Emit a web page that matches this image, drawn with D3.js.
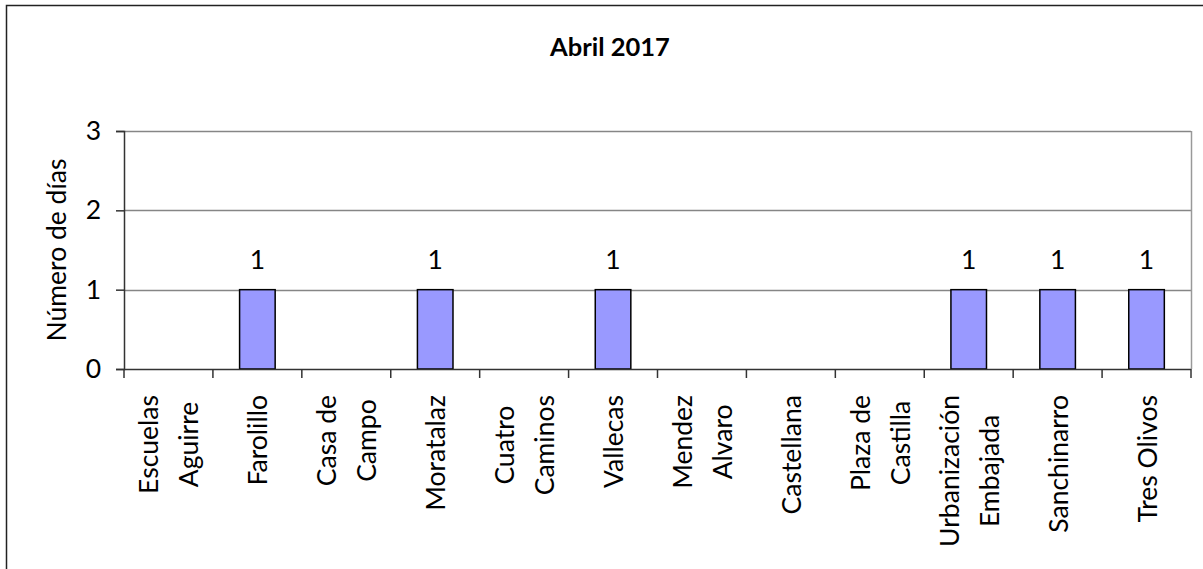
<!DOCTYPE html>
<html>
<head>
<meta charset="utf-8">
<script src="https://cdn.jsdelivr.net/npm/d3@7"></script>
<style>
  body { margin: 0; background: #fff; }
  text { font-family: Lato, "Open Sans", sans-serif; fill: #000; }
</style>
</head>
<body>
<div id="chart"></div>
<script>
// data
var stations = ["Escuelas Aguirre", "Farolillo", "Casa de Campo", "Moratalaz", "Cuatro Caminos", "Vallecas",
                "Mendez Alvaro", "Castellana", "Plaza de Castilla", "Urbanización Embajada", "Sanchinarro", "Tres Olivos"];
// how each label wraps onto lines
var stationLines = [["Escuelas", "Aguirre"], ["Farolillo"], ["Casa de", "Campo"], ["Moratalaz"], ["Cuatro", "Caminos"],
                    ["Vallecas"], ["Mendez", "Alvaro"], ["Castellana"], ["Plaza de", "Castilla"],
                    ["Urbanización", "Embajada"], ["Sanchinarro"], ["Tres Olivos"]];
var days = [0, 1, 0, 1, 0, 1, 0, 0, 0, 1, 1, 1];
var yTicks = [0, 1, 2, 3];
var chartTitle = "Abril 2017";
var yTitle = "Número de días";

function init(){
    var w = 1203;
    var h = 569;
    var left = 124, right = 1191, top = 131, bottom = 369;
    var fs = 26.5;

    var svg = d3.select("#chart")
                .append("svg")
                .attr("width", w)
                .attr("height", h);

    // outer frame (only left and top edges fall inside the picture)
    svg.append("rect")
        .attr("x", 6.5).attr("y", 5.5)
        .attr("width", 1400).attr("height", 800)
        .attr("fill", "none")
        .attr("stroke", "#222")
        .attr("stroke-width", 1.5);

    var x = d3.scaleBand()
              .domain(stations)
              .range([left, right])
              .paddingInner(0)
              .paddingOuter(0);

    var y = d3.scaleLinear()
              .domain([0, 3])
              .range([bottom, top]);

    // pair each value with its station so filtering keeps the right category
    var rows = stations.map(function(s, i){ return {station: s, days: days[i]}; });
    var nonZero = rows.filter(function(d){ return d.days > 0; });

    // gridlines
    svg.selectAll("line.grid")
        .data(yTicks.filter(function(d){ return d > 0; }))
        .enter()
        .append("line")
        .attr("class", "grid")
        .attr("x1", left).attr("x2", right)
        .attr("y1", function(d){ return Math.round(y(d)) + 0.5; })
        .attr("y2", function(d){ return Math.round(y(d)) + 0.5; })
        .attr("stroke", "#868686")
        .attr("stroke-width", 1.5);

    // right plot border
    svg.append("line")
        .attr("x1", right + 0.5).attr("x2", right + 0.5)
        .attr("y1", y(3)).attr("y2", y(0))
        .attr("stroke", "#999")
        .attr("stroke-width", 1.5);

    // bars
    var bw = x.bandwidth() * 0.4;
    svg.selectAll("rect.bar")
        .data(nonZero)
        .enter()
        .append("rect")
        .attr("class", "bar")
        .attr("x", function(d){ return x(d.station) + (x.bandwidth() - bw) / 2; })
        .attr("y", function(d){ return y(d.days); })
        .attr("width", bw)
        .attr("height", function(d){ return y(0) - y(d.days); })
        .attr("fill", "#9999ff")
        .attr("stroke", "#000")
        .attr("stroke-width", 1.5);

    // value labels
    svg.selectAll("text.val")
        .data(nonZero)
        .enter()
        .append("text")
        .attr("class", "val")
        .attr("x", function(d){ return x(d.station) + x.bandwidth() / 2; })
        .attr("y", function(d){ return y(d.days) - 21; })
        .attr("text-anchor", "middle")
        .attr("font-size", fs)
        .text(function(d){ return d.days; });

    // y axis
    var yAxis = d3.axisLeft(y)
                  .tickValues(yTicks)
                  .tickSize(8)
                  .tickPadding(15)
                  .tickFormat(d3.format("d"));
    var gy = svg.append("g")
                .attr("transform", "translate(" + left + ",0)")
                .call(yAxis);
    gy.selectAll("path, line").attr("stroke", "#333").attr("stroke-width", 1.5);
    gy.selectAll("text").attr("font-size", fs).attr("font-family", "Lato, sans-serif").attr("fill", "#000");

    // x axis line and boundary ticks
    svg.append("line")
        .attr("x1", left).attr("x2", right)
        .attr("y1", bottom + 0.5).attr("y2", bottom + 0.5)
        .attr("stroke", "#333")
        .attr("stroke-width", 1.5);
    var bounds = stations.map(function(s){ return x(s); }).concat([right]);
    svg.selectAll("line.xtick")
        .data(bounds)
        .enter()
        .append("line")
        .attr("class", "xtick")
        .attr("x1", function(d){ return d; }).attr("x2", function(d){ return d; })
        .attr("y1", bottom).attr("y2", bottom + 9)
        .attr("stroke", "#333")
        .attr("stroke-width", 1.5);

    // category labels, rotated, block anchored near the axis
    var labelTop = 395;
    var lineGap = 40;
    stationLines.forEach(function(lines, i){
        var cx = x(stations[i]) + x.bandwidth() / 2;
        var g = svg.append("g");
        var texts = g.selectAll("text")
            .data(lines)
            .enter()
            .append("text")
            .attr("font-size", fs)
            .attr("text-anchor", "middle")
            .text(function(d){ return d; });
        var maxLen = 0;
        texts.each(function(){ maxLen = Math.max(maxLen, this.getComputedTextLength()); });
        var n = lines.length;
        texts.attr("transform", function(d, j){
            var bx = cx + (j - (n - 1) / 2) * lineGap + 10;
            var by = labelTop + maxLen / 2;
            return "translate(" + bx + "," + by + ") rotate(-90)";
        });
    });

    // title
    svg.append("text")
        .attr("x", 610)
        .attr("y", 56)
        .attr("text-anchor", "middle")
        .attr("font-size", 25.5)
        .attr("font-weight", "bold")
        .text(chartTitle);

    // y axis title
    svg.append("text")
        .attr("transform", "translate(66," + ((top + bottom) / 2) + ") rotate(-90)")
        .attr("text-anchor", "middle")
        .attr("font-size", fs)
        .text(yTitle);
}
window.onload = init;
</script>
</body>
</html>
